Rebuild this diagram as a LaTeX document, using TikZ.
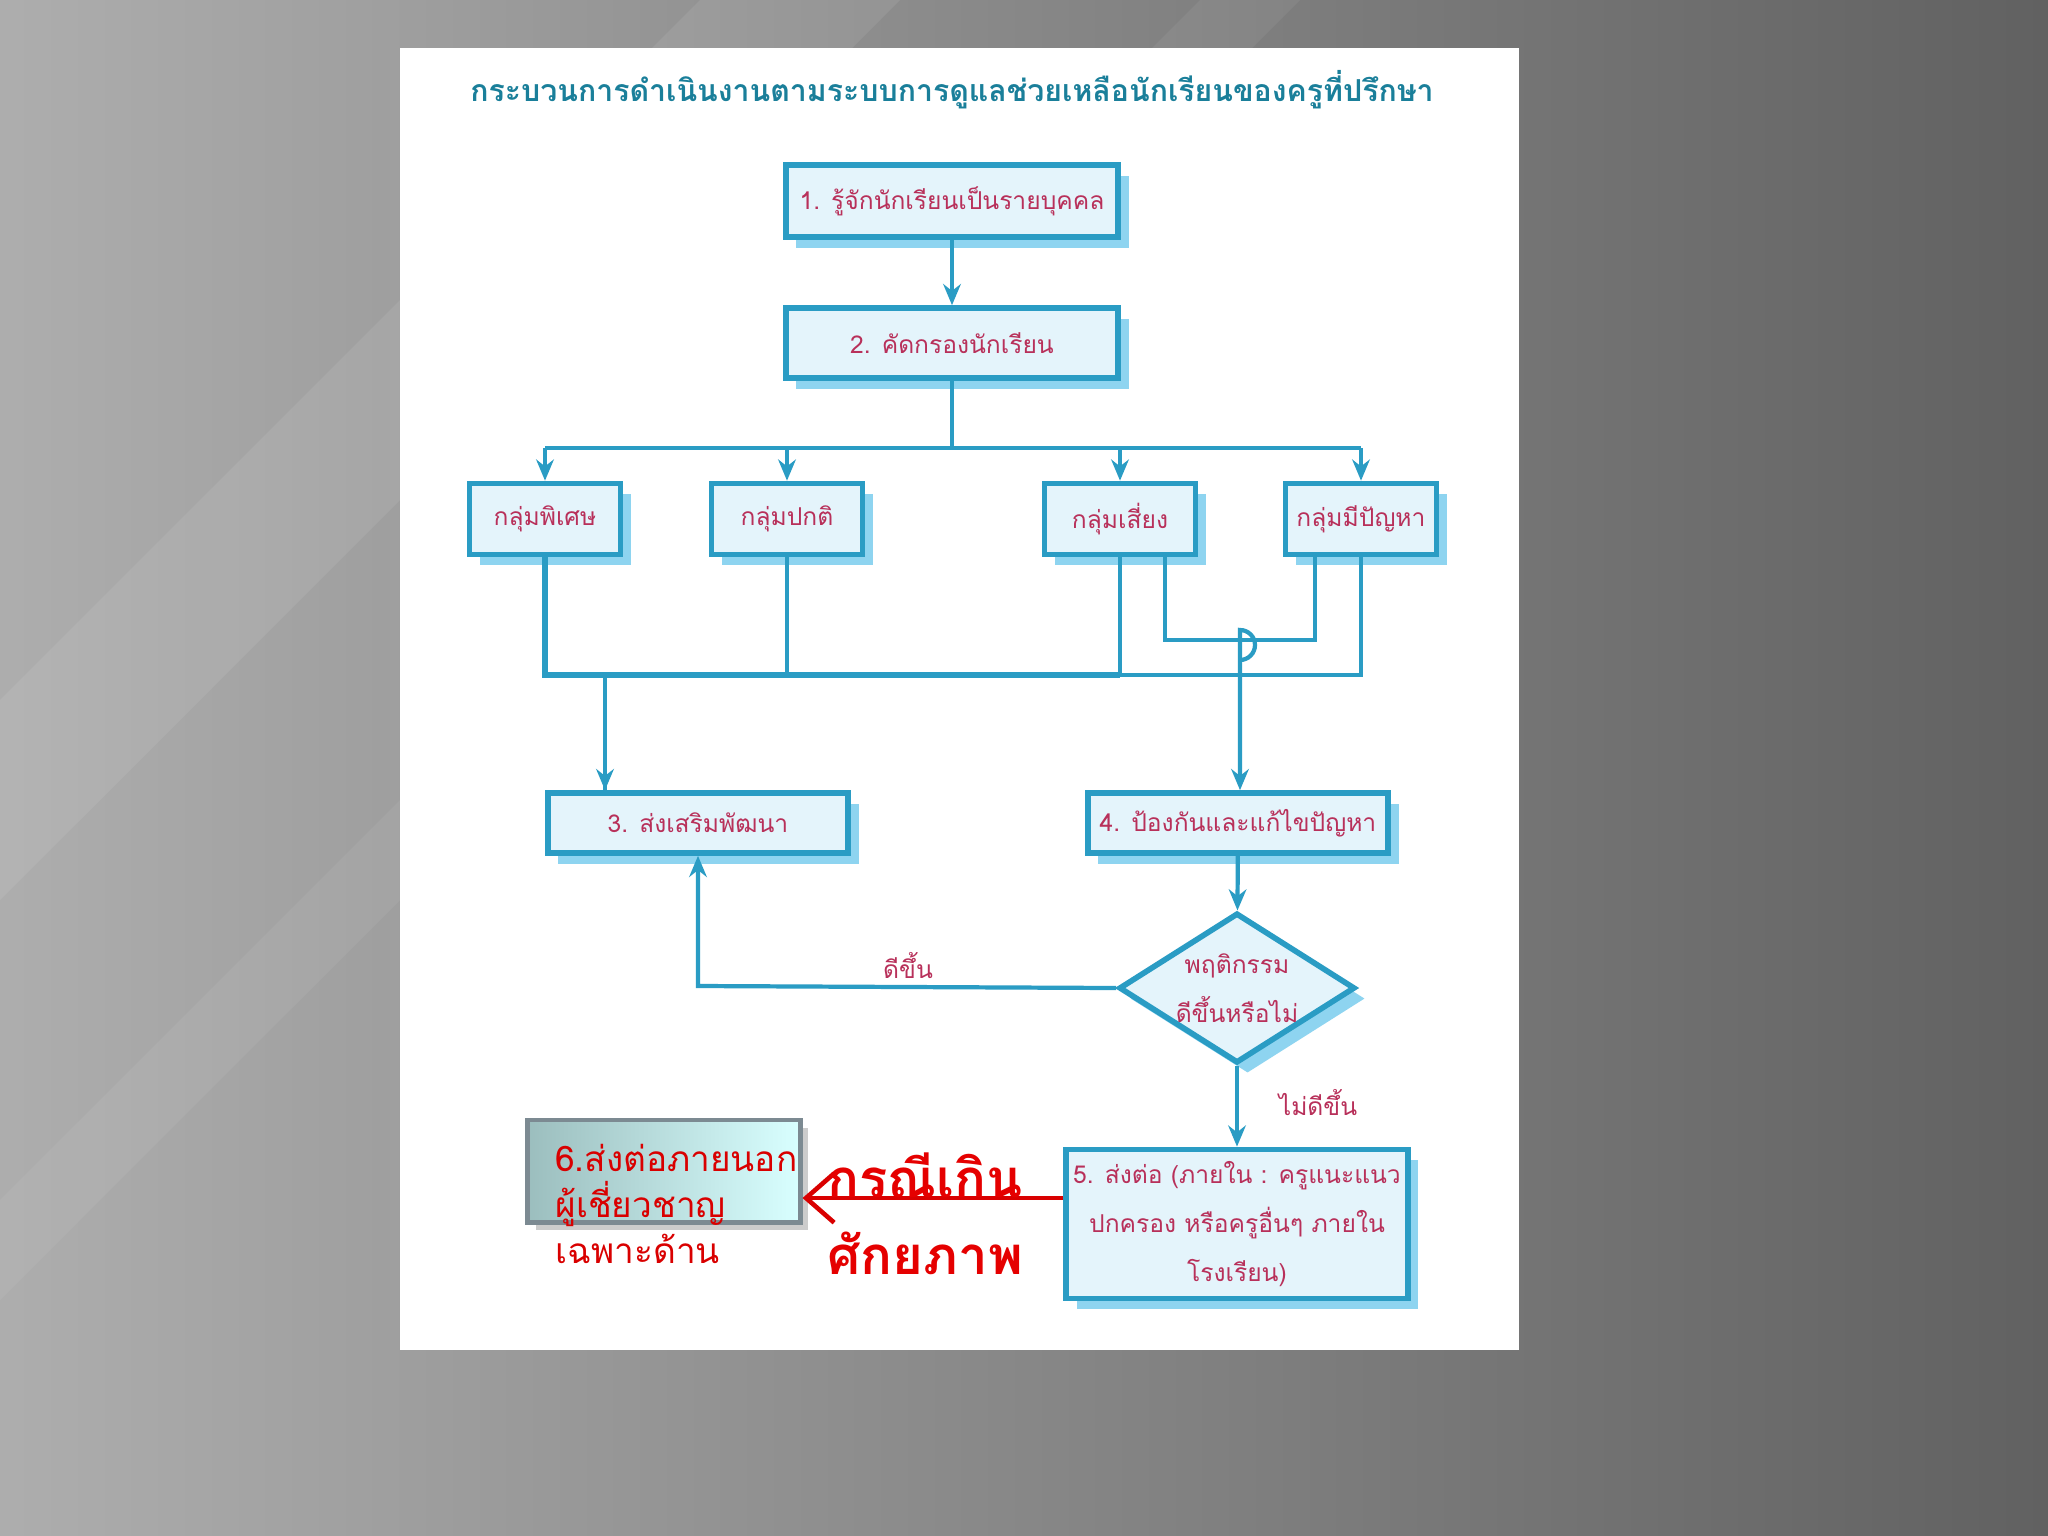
\documentclass[tikz,border=0pt]{standalone}
\usepackage{fontspec}
\setmainfont{Liberation Serif}
\newfontfamily\thai[Script=Thai]{Loma}
\usetikzlibrary{shapes.geometric,arrows.meta,shadows}
\definecolor{bline}{HTML}{2A9CC4}
\definecolor{bfill}{HTML}{E4F4FB}
\definecolor{bshadow}{HTML}{8ED4F0}
\definecolor{txt}{HTML}{B8305A}
\definecolor{ttl}{HTML}{1A7F9A}
\tikzset{
  box/.style={draw=bline, line width=1.6pt, fill=bfill, text=txt, font=\thai\fontsize{7}{12}\selectfont,
    inner xsep=2pt, drop shadow={shadow xshift=3pt, shadow yshift=-3pt, fill=bshadow, opacity=1}},
  conn/.style={draw=bline, line width=1.2pt},
  arr/.style={conn, -{Stealth[length=6pt,width=5pt]}},
  lbl/.style={text=txt, font=\thai\fontsize{7}{10}\selectfont}
}
\begin{document}
\begin{tikzpicture}[x=0.01cm,y=-0.01cm]
\useasboundingbox (0,0) rectangle (2048,1536);
\shade[left color=black!32, right color=black!62] (0,0) rectangle (2048,1536);
\fill[white,opacity=0.08] (0,700) -- (700,0) -- (900,0) -- (0,900) -- cycle;
\fill[white,opacity=0.06] (0,1200) -- (1200,0) -- (1300,0) -- (0,1300) -- cycle;
\fill[white] (400,48) rectangle (1519,1350);
\node[text=ttl, font=\thai\bfseries\fontsize{8.6}{10}\selectfont] (title) at (952,90) {กระบวนการดำเนินงานตามระบบการดูแลช่วยเหลือนักเรียนของครูที่ปรึกษา};
\node[box, minimum width=3.32cm, minimum height=0.72cm] (b1) at (952,201) {1. รู้จักนักเรียนเป็นรายบุคคล};
\node[box, minimum width=3.32cm, minimum height=0.70cm] (b2) at (952,343) {2. คัดกรองนักเรียน};
\node[box, minimum width=1.51cm, minimum height=0.71cm] (g1) at (545,519) {กลุ่มพิเศษ};
\node[box, minimum width=1.51cm, minimum height=0.71cm] (g2) at (787,519) {กลุ่มปกติ};
\node[box, minimum width=1.51cm, minimum height=0.71cm] (g3) at (1120,519) {กลุ่มเสี่ยง};
\node[box, minimum width=1.51cm, minimum height=0.71cm] (g4) at (1361,519) {กลุ่มมีปัญหา};
\node[box, minimum width=3.0cm, minimum height=0.60cm] (b3) at (698,823) {3. ส่งเสริมพัฒนา};
\node[box, minimum width=3.0cm, minimum height=0.60cm] (b4) at (1238,823) {4. ป้องกันและแก้ไขปัญหา};
\node[box, diamond, aspect=1.6, minimum width=2.36cm, minimum height=1.50cm, inner sep=0pt, align=center, font=\thai\fontsize{7}{14}\selectfont] (d) at (1237,988) {พฤติกรรม\\ดีขึ้นหรือไม่};
\node[box, minimum width=3.29cm, minimum height=1.48cm, align=center, font=\thai\fontsize{7}{14}\selectfont] (b5) at (1237,1224) {5. ส่งต่อ (ภายใน : ครูแนะแนว\\ปกครอง หรือครูอื่นๆ ภายใน\\โรงเรียน)};
\node[draw=black!45!cyan!30!gray, line width=1.4pt, left color=black!25!cyan!30!gray!60, right color=white!85!cyan,
  minimum width=2.72cm, minimum height=1.02cm, drop shadow={opacity=0.4}] (b6) at (664,1171) {};
\node[anchor=north west, align=left, text=red!85!black, font=\thai\fontsize{10}{13}\selectfont] (b6t) at (543,1132) {6.ส่งต่อภายนอก\\ผู้เชี่ยวชาญ\\เฉพาะด้าน};
% connectors
\draw[arr] (b1) -- (b2);
\coordinate (hub) at (952,448);
\draw[conn] (b2.south) -- (hub);
\draw[conn] (545,448) -- (1361,448);
\foreach \g in {g1,g2,g3,g4} \draw[arr] (\g.north |- hub) -- (\g.north);
\draw[conn, line width=1.8pt] (g1.south) -- (545,675) -- (1120,675);
\draw[conn] (g2.south) -- (787,675);
\draw[conn] (g3.south) -- (1120,675);
\draw[conn] (1120,675) -- (1361,675) -- (g4.south);
\draw[conn] (1165,554) -- (1165,640) -- (1315,640) -- (1315,554);
\draw[arr] (1240,640) -- (1240,660) arc[start angle=90,end angle=-90,radius=15] -- (b4.north -| 1240,0);
\draw[arr] (605,675) -- (605,790) -- (b3.north -| 605,0);
\draw[arr] (b4) -- (d);
\draw[arr] (d.west) -- (698,986) -- (b3.south);
\node[lbl] (l1) at (908,966) {ดีขึ้น};
\draw[arr] (d.south) -- (b5.north);
\node[lbl] (l2) at (1318,1103) {ไม่ดีขึ้น};
\draw[red!85!black, line width=1.3pt, -{Straight Barb[length=8pt,width=14pt]}] (b5.west |- 0,1198) -- (b6.east |- 0,1198);
\node[anchor=north west, align=left, text=red!90!black, font=\thai\bfseries\fontsize{15}{22}\selectfont] (red) at (815,1140) {กรณีเกิน\\ศักยภาพ};
\end{tikzpicture}
\end{document}
